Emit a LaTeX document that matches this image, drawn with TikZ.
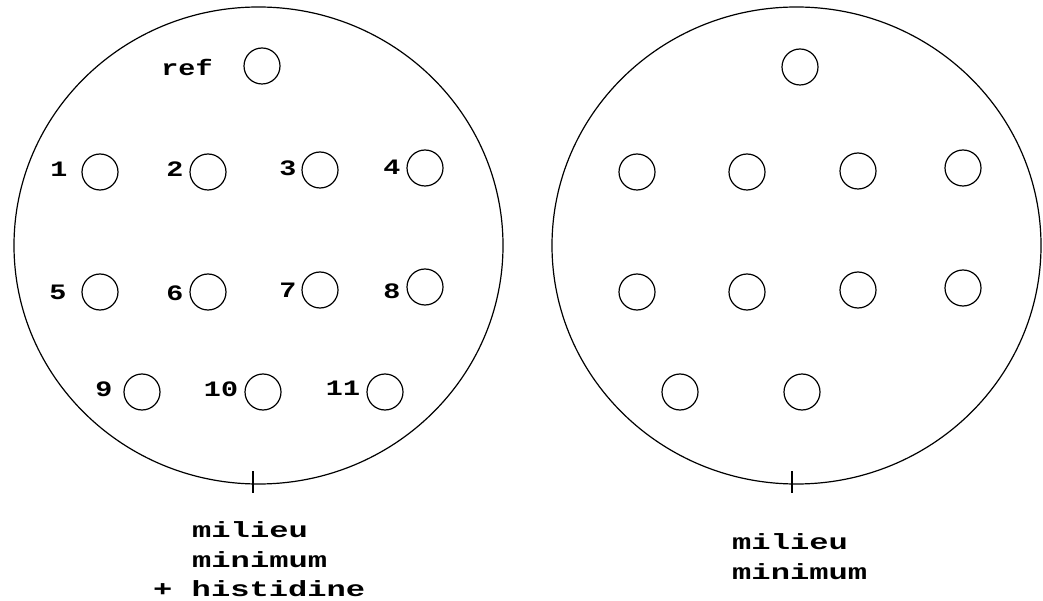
\documentclass[tikz,border=0pt]{standalone}
\usepackage{fontspec}
\usetikzlibrary{shapes.geometric}
\newfontfamily\monob{Liberation Mono}
\tikzset{
  plate/.style={draw, line width=1.2pt, ellipse, minimum width=489pt, minimum height=477pt, inner sep=0pt},
  hole/.style={draw, line width=1.2pt, circle, minimum size=36pt, inner sep=0pt},
  numlab/.style={inner sep=0pt, font=\monob\bfseries\fontsize{22}{24}\selectfont},
  medlab/.style={inner sep=0pt, anchor=west, font=\monob\bfseries\fontsize{22}{24}\selectfont},
  tick/.style={line width=1.2pt}
}
\newcommand{\lx}[1]{\scalebox{1.29}[1]{#1}}
\newcommand{\mx}[1]{\scalebox{1.46}[1]{#1}}
\begin{document}
\begin{tikzpicture}[x=1pt,y=-1pt]
\useasboundingbox (0,0) rectangle (1043,601);
% plates
\node[plate] (L) at (258.5,245.5) {};
\node[plate] (R) at (796.5,245.5) {};
% ticks
\coordinate (lt1) at (253,471); \coordinate (lt2) at (253,493);
\coordinate (rt1) at (792,471); \coordinate (rt2) at (792,493);
\draw[tick] (lt1) -- (lt2);
\draw[tick] (rt1) -- (rt2);
% left holes
\node[hole] (Lref) at (262,66) {};
\node[hole] (L1) at (100,172) {};
\node[hole] (L2) at (208,172) {};
\node[hole] (L3) at (320,170) {};
\node[hole] (L4) at (425,168) {};
\node[hole] (L5) at (100,292) {};
\node[hole] (L6) at (208,292) {};
\node[hole] (L7) at (320,290) {};
\node[hole] (L8) at (425,287) {};
\node[hole] (L9) at (142,392) {};
\node[hole] (L10) at (263,392) {};
\node[hole] (L11) at (385,392) {};
% left labels
\node[numlab] (tref) at (187,67) {\lx{ref}};
\node[numlab] (t1) at (59,169) {\lx{1}};
\node[numlab] (t2) at (175,169) {\lx{2}};
\node[numlab] (t3) at (288,168) {\lx{3}};
\node[numlab] (t4) at (392,167) {\lx{4}};
\node[numlab] (t5) at (58,292) {\lx{5}};
\node[numlab] (t6) at (175,293) {\lx{6}};
\node[numlab] (t7) at (288,290) {\lx{7}};
\node[numlab] (t8) at (392,291) {\lx{8}};
\node[numlab] (t9) at (104,389) {\lx{9}};
\node[numlab] (t10) at (221,389) {\lx{10}};
\node[numlab] (t11) at (343,388) {\lx{11}};
% right holes
\node[hole] (Rtop) at (800,67) {};
\node[hole] (R1) at (637,172) {};
\node[hole] (R2) at (747,172) {};
\node[hole] (R3) at (858,171) {};
\node[hole] (R4) at (963,168) {};
\node[hole] (R5) at (637,292) {};
\node[hole] (R6) at (747,292) {};
\node[hole] (R7) at (858,290) {};
\node[hole] (R8) at (963,288) {};
\node[hole] (R9) at (680,392) {};
\node[hole] (R10) at (802,392) {};
% medium labels
\node[medlab] (lm1) at (192,530) {\mx{milieu}};
\node[medlab] (lm2) at (192,560) {\mx{minimum}};
\node[medlab] (lm3) at (153,589) {\mx{+ histidine}};
\node[medlab] (rm1) at (732,542) {\mx{milieu}};
\node[medlab] (rm2) at (732,572) {\mx{minimum}};
\end{tikzpicture}
\end{document}
